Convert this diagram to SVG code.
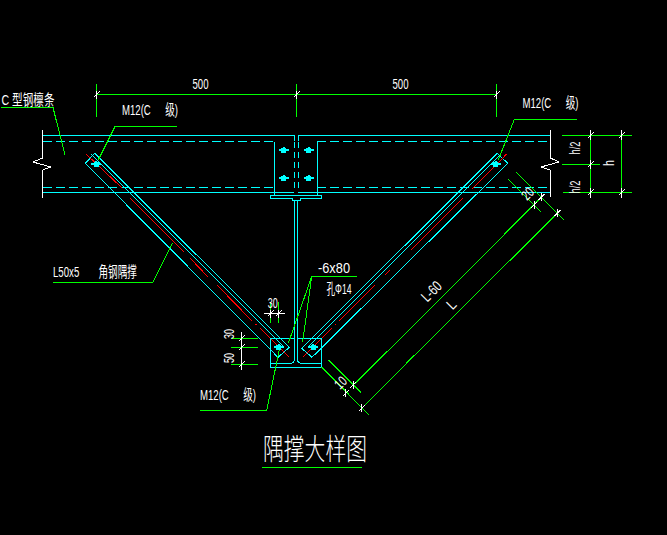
<svg xmlns="http://www.w3.org/2000/svg" width="667" height="535" viewBox="0 0 667 535" shape-rendering="crispEdges">
<style>
.c{stroke:#00ffff;fill:none;stroke-width:1}
.d{stroke-dasharray:9 4}
.t{stroke:#00ffff;fill:none;stroke-width:1}
.r{stroke:#ff0000;fill:none;stroke-width:1}
.g{stroke:#00ff00;fill:none;stroke-width:1}
.w{stroke:#ffffff;fill:none;stroke-width:1}
text{fill:#fff;font-family:"Liberation Sans","Noto Sans CJK SC",sans-serif;font-size:15px;text-anchor:middle}
.s{font-size:14px}
.b{stroke:#00ffff;stroke-width:2;fill:none}
</style>
<defs>
<g id="bolt"><path class="b" d="M-5 0H5M0 -3V3M-2.500 -1.500H2.500M-2.500 1.500H2.500"/></g>
<g id="x"><path class="w" d="M-3 3L3 -3M0 -4V4"/></g>
</defs>
<rect width="667" height="535" fill="#000"/>
<g id="beam">
<path class="c" d="M43 135.500H294V141M298 141V135.500H550"/>
<path class="c d" d="M43 141.500H274M317 141.500H550M43 187.500H274M317 187.500H550"/>
<path class="c" d="M43 192.500H294M298 192.500H550"/>
<path class="w" d="M42.700 130V158L33 162L50.700 167L42.700 170V198M550.300 130V158L559 162L541 167L550.300 170V197"/>
</g>
<g id="gusset-top">
<path class="c" d="M274.500 142V195M317.500 142V195"/>
<path class="c" stroke-dasharray="6 4" d="M294.500 142V192M298.500 142V192"/>
<path class="c" d="M270.500 195.500H321.500V198.500H300V200H292V198.500H270.500ZM294.500 200V338M297.500 200V338"/>
<use href="#bolt" x="283.500" y="150"/><use href="#bolt" x="308.500" y="150"/>
<use href="#bolt" x="283.500" y="178"/><use href="#bolt" x="308.500" y="178"/>
</g>
<g id="brace-left">
<path class="t" d="M94.700 153.300L289.300 347.300L278 357.300L85.300 163.300ZM91.500 154.500L284 347"/>
<path class="r" d="M86 154L122 188M130 198L184 252M190 258L208 277M217 285L252 321M255.500 324L256.500 325M260 328L289 357"/>
<use href="#bolt" x="96" y="164"/>
</g>
<g id="brace-right">
<path class="t" d="M497.300 153.300L301.700 348.300L312 357.300L507.700 163.300ZM500.500 154.500L308 347"/>
<path class="r" d="M506.700 154L471.700 189.300M463 198L411 250M390 270L385 275M375 285L339.300 320.700M336 324L335 325M331.700 328.300L303.300 356.700"/>
<use href="#bolt" x="495.500" y="164"/>
</g>
<g id="gusset-bottom">
<path class="c" d="M270.500 338.500H294.500V360Q294 363 290 363.500H270.500ZM321.500 338.500H297.500V360Q298 363 302 363.500H321.500ZM270.500 338.500V367.500H321.500V338.500"/>
<use href="#bolt" x="278.700" y="347"/><use href="#bolt" x="313" y="347"/>
</g>
<g id="connectors">
<path class="g" d="M96.500 84V117M96.500 94.500H496.500M296.500 84V117M496.500 84V117"/>
<path class="g" d="M1 107.500H53L65 155M176.700 126.500H115L98.300 160M576.700 119.500H514.300L498.300 160"/>
<path class="g" d="M562 135.500H632M562 164.500H600M563 192.500H632M590.500 135.500V192.500M621.500 135.500V192.500"/>
<path class="g" d="M516 172L564 220M508 179L541 211.700M409.700 329.300L353.300 385M409.700 360L361.700 408.300M541.300 197.300L409.700 329.300M557.300 213.300L409.700 360M321.700 367L369 415M328.300 360L361 392.700"/>
<path class="g" d="M356.700 276.500H311.700L288.300 343.300M311.700 276.500L302.700 341.700M200 410.500H266.700L279.300 350"/>
<path class="g" d="M53 282.500H152.700L172.700 242.700"/>
<path class="g" d="M270.500 301.700V323.300M278.500 302V323M231 338.500H257.700M231 347.500H257.700M231 364.500H257.700"/>
<path class="g" d="M262 467.500H362"/>
<path class="w" d="M264 313.500H285M241.500 331.700V370M590.500 130V139M590.500 160V168M590.500 188V198M621.500 130V139M621.500 188V198"/>
<use href="#x" x="96.500" y="94.500"/><use href="#x" x="296.500" y="94.500"/><use href="#x" x="496.500" y="94.500"/>
<use href="#x" x="534.300" y="205"/><use href="#x" x="541.300" y="197.300"/><use href="#x" x="557.300" y="213.300"/>
<use href="#x" x="345.700" y="393.300"/><use href="#x" x="353.300" y="385"/><use href="#x" x="361.700" y="408.300"/>
<use href="#x" x="270.500" y="313.500"/><use href="#x" x="278.500" y="313.500"/>
<use href="#x" x="241.500" y="338.500"/><use href="#x" x="241.500" y="347.500"/><use href="#x" x="241.500" y="364.500"/>
<use href="#x" x="590.500" y="135.500"/><use href="#x" x="590.500" y="164.500"/><use href="#x" x="590.500" y="192.500"/>
<use href="#x" x="621.500" y="135.500"/><use href="#x" x="621.500" y="192.500"/>
</g>
<g id="labels">
<text x="200.500" y="89" textLength="16" lengthAdjust="spacingAndGlyphs">500</text>
<text x="400.500" y="89" textLength="16" lengthAdjust="spacingAndGlyphs">500</text>
<text x="28" y="105" textLength="53" lengthAdjust="spacingAndGlyphs">C 型钢檩条</text>
<text x="150" y="115" textLength="56" lengthAdjust="spacingAndGlyphs">M12(C&#8195;&#8194;级)</text>
<text x="550.500" y="108" textLength="56" lengthAdjust="spacingAndGlyphs">M12(C&#8195;&#8194;级)</text>
<text x="228" y="400" textLength="56" lengthAdjust="spacingAndGlyphs">M12(C&#8195;&#8194;级)</text>
<text x="95" y="277" textLength="84" lengthAdjust="spacingAndGlyphs">L50x5&#8195;&#8195;角钢隅撑</text>
<text x="334" y="273" textLength="32" lengthAdjust="spacingAndGlyphs">-6x80</text>
<text x="339" y="294" textLength="25" lengthAdjust="spacingAndGlyphs">孔Φ14</text>
<text x="272.700" y="308" textLength="10" lengthAdjust="spacingAndGlyphs">30</text>
<text transform="translate(234 334) rotate(-90)" textLength="10" lengthAdjust="spacingAndGlyphs">30</text>
<text transform="translate(234 358) rotate(-90)" textLength="10" lengthAdjust="spacingAndGlyphs">50</text>
<text transform="translate(580 148) rotate(-90)" textLength="13" lengthAdjust="spacingAndGlyphs">h/2</text>
<text transform="translate(580 187) rotate(-90)" textLength="13" lengthAdjust="spacingAndGlyphs">h/2</text>
<text transform="translate(614 163) rotate(-90)" textLength="6" lengthAdjust="spacingAndGlyphs">h</text>
<text class="s" transform="translate(531 197) rotate(-45)" textLength="11" lengthAdjust="spacingAndGlyphs">20</text>
<text class="s" transform="translate(344 386) rotate(-45)" textLength="11" lengthAdjust="spacingAndGlyphs">10</text>
<text transform="translate(435 295) rotate(-45)" textLength="22" lengthAdjust="spacingAndGlyphs">L-60</text>
<text transform="translate(455 308) rotate(-45)" textLength="7" lengthAdjust="spacingAndGlyphs">L</text>
<text x="315" y="460" style="font-size:29px;font-weight:200" textLength="104" lengthAdjust="spacingAndGlyphs">隅撑大样图</text>
</g>
</svg>
